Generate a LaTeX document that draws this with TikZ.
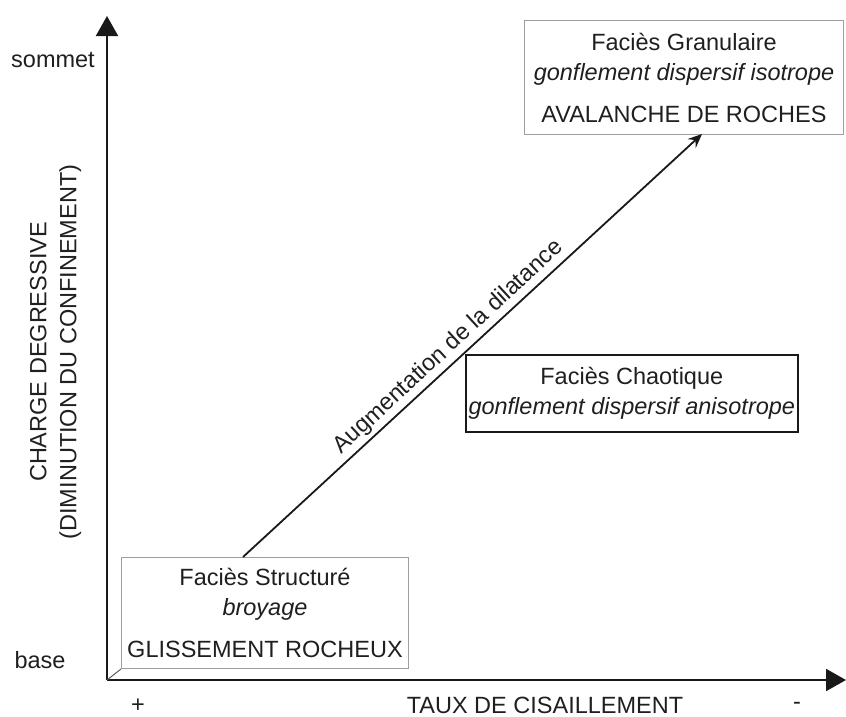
\documentclass[tikz,border=0pt]{standalone}
\usepackage{fontspec}
\setmainfont{Liberation Sans}
\usetikzlibrary{arrows.meta}
\begin{document}
\begin{tikzpicture}[x=1pt,y=-1pt,
  txt/.style={font=\fontsize{23.5}{30}\selectfont, text=black!88},
  facies/.style={txt, align=center, inner sep=0pt, anchor=north west},
  lightbox/.style={facies, draw=black!38, line width=1pt},
  darkbox/.style={facies, draw=black!90, line width=1.6pt},
  axis/.style={line width=2pt, black!90, -{Triangle[length=20pt,width=22pt]}},
  trend/.style={line width=1.8pt, black!90, -{Stealth[length=14pt,width=12pt,inset=5pt]}},
]
\useasboundingbox (0,0) rectangle (846,716);

% axes
\coordinate (o) at (107,680);
\coordinate (ytip) at (107,16);
\coordinate (xtip) at (846,680);
\draw[axis] (o) -- (ytip);
\draw[axis] (o) -- (xtip);

% axis annotations
\node[txt] (sommet) at (53,60) {sommet};
\node[txt] (base) at (40,660) {base};
\node[txt, inner sep=0pt] (plus) at (138,706) {+};
\node[txt, inner sep=0pt] (minus) at (797,706) {-};
\node[txt, inner sep=0pt] (xlab) at (545,705) {TAUX DE CISAILLEMENT};
\node[txt, rotate=90, align=center] (ylab) at (55.5,352)
  {CHARGE DEGRESSIVE\\(DIMINUTION DU CONFINEMENT)};

% facies boxes
\node[lightbox, minimum width=287pt, minimum height=111pt] (struct) at (121,557)
  {Faciès Structuré\\ \textit{broyage}\\[12pt] GLISSEMENT ROCHEUX};
\node[darkbox, minimum width=332pt, minimum height=77pt] (chaos) at (465,354)
  {Faciès Chaotique\\ \textit{gonflement dispersif anisotrope}};
\node[lightbox, minimum width=319pt, minimum height=114pt] (gran) at (524,20)
  {Faciès Granulaire\\ \textit{gonflement dispersif isotrope}\\[12pt] AVALANCHE DE ROCHES};

% link from origin to the first facies
\draw[black!65, line width=1pt] (o) -- (struct.south west);

% dilatancy trend
\coordinate (d0) at (243,557);
\coordinate (d1) at (702,134);
\draw[trend] (d0) -- node[pos=0.47, sloped, above, txt, inner sep=3pt] (dil)
  {Augmentation de la dilatance} (d1);
\end{tikzpicture}
\end{document}
